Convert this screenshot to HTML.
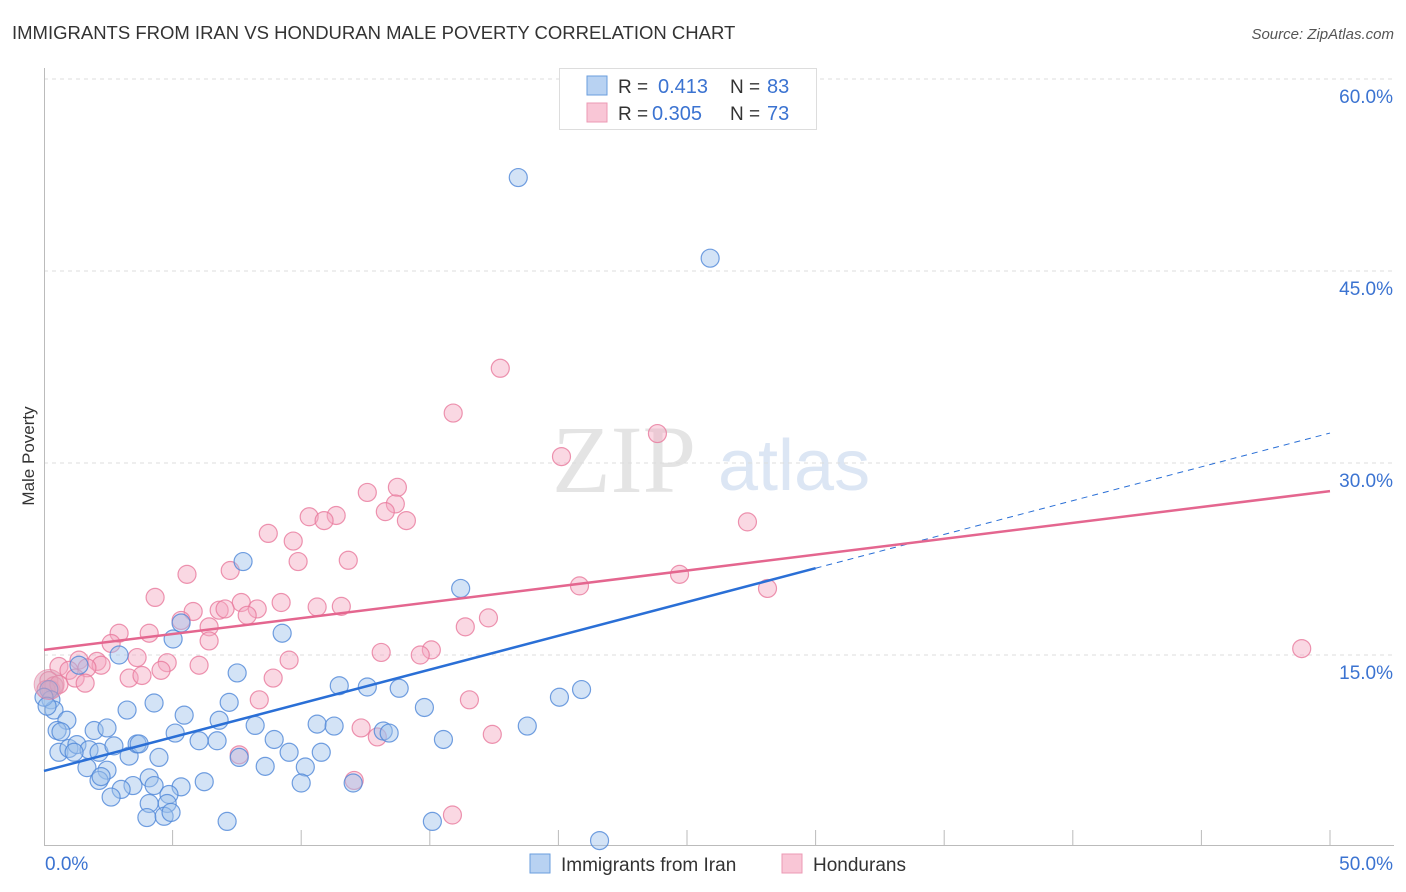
<!DOCTYPE html>
<html><head><meta charset="utf-8"><style>
body{margin:0;background:#fff;width:1406px;height:892px;overflow:hidden;font-family:"Liberation Sans",sans-serif}
svg{position:absolute;left:0;top:0}
</style></head><body>
<svg id="chart" width="1406" height="892">
<text x="12" y="39" font-size="18.5" fill="#333">IMMIGRANTS FROM IRAN VS HONDURAN MALE POVERTY CORRELATION CHART</text>
<text x="1394" y="39" font-size="15" fill="#555" font-style="italic" text-anchor="end">Source: ZipAtlas.com</text>
<text transform="translate(34,456) rotate(-90)" font-size="17" fill="#333" text-anchor="middle">Male Poverty</text>
<g><text x="552" y="492" font-family="Liberation Serif,serif" font-size="96" fill="#e4e4e4">ZIP</text><text x="718" y="490" font-size="72" fill="#dce6f4">atlas</text></g>
<g id="grid"></g><g id="axes"></g><g id="pts"></g><g id="lines"></g>
<g>
<rect x="559.5" y="68.5" width="257" height="61" fill="#fff" stroke="#ddd"/>
<rect x="587" y="76" width="20" height="19" fill="#b8d2f2" stroke="#6a9ede"/>
<rect x="587" y="103" width="20" height="19" fill="#f9c6d6" stroke="#ec9ab4"/>
<text x="618" y="93" font-size="19" fill="#333">R = </text><text x="658" y="93" font-size="20" fill="#3b73d1">0.413</text>
<text x="730" y="93" font-size="19" fill="#333">N = </text><text x="767" y="93" font-size="20" fill="#3b73d1">83</text>
<text x="618" y="120" font-size="19" fill="#333">R = </text><text x="652" y="120" font-size="20" fill="#3b73d1">0.305</text>
<text x="730" y="120" font-size="19" fill="#333">N = </text><text x="767" y="120" font-size="20" fill="#3b73d1">73</text>
</g>
<g>
<rect x="530" y="854" width="20" height="19" fill="#b8d2f2" stroke="#6a9ede"/>
<text x="561" y="871" font-size="19" fill="#333">Immigrants from Iran</text>
<rect x="782" y="854" width="20" height="19" fill="#f9c6d6" stroke="#ec9ab4"/>
<text x="813" y="871" font-size="19" fill="#333">Hondurans</text>
</g>
</svg>
<script>
const yTicks=[15,30,45,60];
const yTickLabels=["15.0%","30.0%","45.0%","60.0%"];
const xTickVals=[5,10,15,20,25,30,35,40,45,50];
const xEndLabels=["0.0%","50.0%"];
const iranX=[18.44,25.9,7.74,16.2,9.26,5.33,5.02,2.92,1.36,7.51,20.04,20.9,11.48,12.57,13.81,14.79,0.19,0.27,0.39,0.89,0.51,1.95,2.45,3.23,4.28,5.45,6.81,7.2,8.21,10.62,11.28,13.19,13.42,18.79,5.1,6.73,0.58,0.97,1.28,1.75,2.14,2.72,3.31,3.62,4.47,7.59,9.53,10.78,8.6,10.16,1.67,2.45,2.14,3.46,4.09,4.28,5.33,6.23,4.86,3.0,2.61,4.09,4.79,4.0,4.67,4.94,7.12,10.0,12.02,15.1,15.53,21.6,0.66,1.17,2.22,0.0,0.12,3.7,6.03,8.95];
const iranY=[52.3,46.0,22.3,20.2,16.7,17.5,16.25,15.0,14.2,13.6,11.7,12.3,12.6,12.5,12.4,10.9,12.3,11.5,10.7,9.9,9.1,9.1,9.3,10.7,11.25,10.3,9.9,11.3,9.5,9.6,9.45,9.06,8.9,9.45,8.9,8.3,7.4,7.7,8.0,7.6,7.4,7.9,7.1,8.05,7.0,7.0,7.4,7.4,6.3,6.25,6.2,6.0,5.2,4.8,5.4,4.8,4.7,5.1,4.1,4.5,3.9,3.4,3.4,2.3,2.4,2.7,2.0,5.0,5.0,2.0,8.4,0.5,9.0,7.4,5.5,11.7,11.0,8.05,8.3,8.4];
const honX=[17.74,15.91,23.85,20.12,27.35,13.74,12.57,13.66,13.27,14.09,10.31,11.36,10.89,8.72,9.69,9.88,11.83,5.56,7.24,24.71,20.82,28.13,4.32,7.67,9.22,10.62,11.56,5.8,6.81,7.04,8.29,5.33,7.9,17.28,16.38,6.42,2.92,4.09,6.42,2.61,15.06,13.11,14.63,9.53,3.62,4.79,6.03,2.06,2.22,1.36,1.67,0.58,0.97,1.21,4.55,3.31,3.81,8.91,1.6,0.19,0.27,0.39,16.54,8.37,12.33,12.96,17.43,7.59,12.06,15.88,48.9,0.08,0.58];
const honY=[37.4,33.9,32.3,30.5,25.4,28.1,27.7,26.8,26.2,25.5,25.8,25.9,25.5,24.5,23.9,22.3,22.4,21.3,21.6,21.3,20.4,20.2,19.5,19.1,19.1,18.75,18.8,18.4,18.5,18.6,18.6,17.7,18.1,17.9,17.2,17.2,16.7,16.7,16.1,15.9,15.4,15.2,15.0,14.6,14.8,14.4,14.2,14.5,14.2,14.6,14.0,14.1,13.8,13.2,13.8,13.2,13.4,13.2,12.8,13.0,12.3,12.6,11.5,11.5,9.3,8.6,8.8,7.2,5.2,2.5,15.5,12.3,12.7];
const iranTrend=[5.94,0.528];
const honTrend=[15.4,0.248];
const NS='http://www.w3.org/2000/svg';
const xs=v=>44+v*25.72, ys=v=>847-v*12.8;
function mk(p,tag,at){const e=document.createElementNS(NS,tag);for(const k in at)e.setAttribute(k,at[k]);p.appendChild(e);return e;}
const grid=document.getElementById('grid'),axes=document.getElementById('axes'),pts=document.getElementById('pts'),lines=document.getElementById('lines');
yTicks.forEach((t,i)=>{
 const l=mk(grid,'line',{x1:44,x2:1394,y1:ys(t),y2:ys(t),stroke:'#ddd','stroke-dasharray':'4,4'});
 
 
 const tx=mk(grid,'text',{x:1393,y:ys(t)+24,'font-size':19,fill:'#3b73d1','text-anchor':'end'});
 tx.textContent=yTickLabels[i];
 
 
});
const ax=mk(axes,'path',{d:'M44.5 68V845.5H1394',fill:'none',stroke:'#bbb'});


xTickVals.forEach(t=>{
 const l=mk(axes,'line',{x1:xs(t),x2:xs(t),y1:830,y2:845,stroke:'#bbb'});
 
 
});
[[0,xEndLabels[0],'start',45],[50,xEndLabels[1],'end',1393]].forEach(a=>{
 const t=mk(axes,'text',{x:a[3],y:870,'font-size':19,fill:'#3b73d1','text-anchor':a[2]});
 t.textContent=a[1];
 
 
});
function dots(X,Y,fill,stroke,name){X.forEach((x,i)=>{
 const c=mk(pts,'circle',{cx:xs(x),cy:ys(Y[i]),r:9,fill:fill,'fill-opacity':0.45,stroke:stroke,'stroke-opacity':0.8,'stroke-width':1.2});
 
 
});}
dots(honX,honY,'#f4a9c0','#e8799c','honduran-point');
dots(iranX,iranY,'#9dc0ec','#4f87d8','iran-point');
const big=mk(pts,'circle',{cx:xs(0.2),cy:ys(12.7),r:15,fill:'#d9a0b8','fill-opacity':0.5,stroke:'#e8799c','stroke-opacity':0.6});


const f=(t,x)=>t[0]+t[1]*x;
const l1=mk(lines,'line',{x1:xs(0),y1:ys(f(iranTrend,0)),x2:xs(30),y2:ys(f(iranTrend,30)),stroke:'#2a6fd6','stroke-width':2.5});


const l2=mk(lines,'line',{x1:xs(30),y1:ys(f(iranTrend,30)),x2:xs(50),y2:ys(f(iranTrend,50)),stroke:'#2a6fd6','stroke-width':1,'stroke-dasharray':'6,5'});


const l3=mk(lines,'line',{x1:xs(0),y1:ys(f(honTrend,0)),x2:xs(50),y2:ys(f(honTrend,50)),stroke:'#e4668f','stroke-width':2.5});


</script>
</body></html>
